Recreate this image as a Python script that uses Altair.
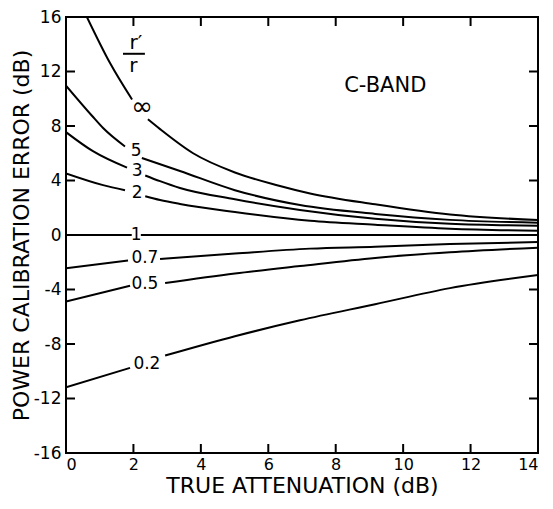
import altair as alt
import pandas as pd

# ---- axis ticks -------------------------------------------------------
x_ticks = [0, 2, 4, 6, 8, 10, 12, 14]
y_ticks = [-16, -12, -8, -4, 0, 4, 8, 12, 16]
inner_x_ticks = [2, 4, 6, 8, 10, 12]
inner_y_ticks = [-12, -8, -4, 0, 4, 8, 12]

# ---- curve readings (x: true attenuation dB, y: error dB) -------------
# each curve is split in two pieces around its in-line label
inf_x1 = [0.62, 1.31, 1.96]
inf_y1 = [16.0, 12.6, 9.94]
inf_x2 = [2.43, 2.79, 3.77, 5.01, 6.26, 7.24, 9.17, 11.39, 14.0]
inf_y2 = [8.49, 7.77, 6.0, 4.59, 3.65, 3.05, 2.25, 1.5, 1.1]

r5_x1 = [0.0, 0.77, 1.1, 1.75]
r5_y1 = [10.96, 8.75, 7.85, 6.5]
r5_x2 = [2.25, 3.38, 5.01, 6.94, 9.17, 11.39, 14.0]
r5_y2 = [5.65, 4.7, 3.29, 2.2, 1.55, 1.11, 0.9]

r3_x1 = [0.0, 0.8, 1.81]
r3_y1 = [7.55, 6.15, 4.94]
r3_x2 = [2.35, 2.79, 3.38, 5.01, 6.94, 9.17, 11.39, 14.0]
r3_y2 = [4.37, 3.95, 3.45, 2.62, 1.84, 1.19, 0.82, 0.68]

r2_x1 = [0.0, 1.1, 1.75]
r2_y1 = [4.52, 3.66, 3.29]
r2_x2 = [2.35, 2.79, 3.38, 5.01, 7.24, 9.17, 11.39, 14.0]
r2_y2 = [2.85, 2.57, 2.28, 1.69, 1.04, 0.75, 0.46, 0.31]

r1_x1 = [0.0, 1.95]
r1_y1 = [0.0, 0.0]
r1_x2 = [2.22, 14.0]
r1_y2 = [0.0, 0.0]

r07_x1 = [0.0, 1.84]
r07_y1 = [-2.44, -1.88]
r07_x2 = [2.79, 5.01, 7.24, 9.17, 11.39, 14.0]
r07_y2 = [-1.76, -1.36, -1.0, -0.86, -0.66, -0.52]

r05_x1 = [0.0, 1.9]
r05_y1 = [-4.88, -3.73]
r05_x2 = [2.94, 5.01, 6.94, 9.17, 11.39, 14.0]
r05_y2 = [-3.53, -2.83, -2.28, -1.68, -1.27, -0.93]

r02_x1 = [0.0, 1.9]
r02_y1 = [-11.17, -9.75]
r02_x2 = [2.94, 5.01, 6.94, 9.17, 11.39, 14.0]
r02_y2 = [-8.85, -7.43, -6.26, -5.08, -3.9, -2.94]

# ---- in-line labels ---------------------------------------------------
label_text = ["5", "3", "2", "1", "0.7", "0.5", "0.2"]
label_x = [2.08, 2.11, 2.11, 2.08, 2.34, 2.34, 2.40]
label_y = [6.14, 4.73, 3.08, 0.0, -1.7, -3.57, -9.45]
inf_label = ["∞"]
inf_label_x = [2.26]
inf_label_y = [9.36]

frac_top = ["r′"]
frac_top_x = [2.07]
frac_top_y = [14.1]
frac_bot = ["r"]
frac_bot_x = [2.0]
frac_bot_y = [12.4]
frac_bar_x = [1.69]
frac_bar_x2 = [2.34]
frac_bar_y = [13.3]

band_text = ["C-BAND"]
band_x = [9.47]
band_y = [10.9]

# ---- build tables -----------------------------------------------------
pieces = [
    ("inf", "a", inf_x1, inf_y1), ("inf", "b", inf_x2, inf_y2),
    ("5", "a", r5_x1, r5_y1), ("5", "b", r5_x2, r5_y2),
    ("3", "a", r3_x1, r3_y1), ("3", "b", r3_x2, r3_y2),
    ("2", "a", r2_x1, r2_y1), ("2", "b", r2_x2, r2_y2),
    ("1", "a", r1_x1, r1_y1), ("1", "b", r1_x2, r1_y2),
    ("0.7", "a", r07_x1, r07_y1), ("0.7", "b", r07_x2, r07_y2),
    ("0.5", "a", r05_x1, r05_y1), ("0.5", "b", r05_x2, r05_y2),
    ("0.2", "a", r02_x1, r02_y1), ("0.2", "b", r02_x2, r02_y2),
]
rows = []
for c, s, xs, ys in pieces:
    for xv, yv in zip(xs, ys):
        rows.append({"seg": c + s, "x": xv, "y": yv})
curves = pd.DataFrame(rows)

labels = pd.DataFrame({"t": label_text, "x": label_x, "y": label_y})
inf_df = pd.DataFrame({"t": inf_label, "x": inf_label_x, "y": inf_label_y})
ftop = pd.DataFrame({"t": frac_top, "x": frac_top_x, "y": frac_top_y})
fbot = pd.DataFrame({"t": frac_bot, "x": frac_bot_x, "y": frac_bot_y})
fbar = pd.DataFrame({"x": frac_bar_x, "x2": frac_bar_x2, "y": frac_bar_y})
band = pd.DataFrame({"t": band_text, "x": band_x, "y": band_y})

bottom_t = pd.DataFrame({"x": inner_x_ticks, "y": [-16] * len(inner_x_ticks)})
top_t = pd.DataFrame({"x": inner_x_ticks, "y": [16] * len(inner_x_ticks)})
left_t = pd.DataFrame({"x": [0] * len(inner_y_ticks), "y": inner_y_ticks})
right_t = pd.DataFrame({"x": [14] * len(inner_y_ticks), "y": inner_y_ticks})

W, H, TICK = 472, 436, 9
FONT = "DejaVu Sans"
xscale = alt.Scale(domain=[0, 14], nice=False, zero=False)
yscale = alt.Scale(domain=[-16, 16], nice=False, zero=False)
xaxis = alt.Axis(values=x_ticks, title="TRUE ATTENUATION (dB)", labelExpr="'' + datum.value")
yaxis = alt.Axis(values=y_ticks, title="POWER CALIBRATION ERROR (dB)", labelExpr="'' + datum.value")


def X(f="x"):
    return alt.X(f"{f}:Q", scale=xscale, axis=xaxis)


def Y(f="y"):
    return alt.Y(f"{f}:Q", scale=yscale, axis=yaxis)


lines = alt.Chart(curves).mark_line(
    color="black", strokeWidth=2, interpolate="monotone", clip=True
).encode(x=X(), y=Y(), detail="seg:N")

lab = alt.Chart(labels).mark_text(
    font=FONT, fontSize=17, color="black"
).encode(x=X(), y=Y(), text="t:N")

inf_t = alt.Chart(inf_df).mark_text(
    font=FONT, fontSize=26, color="black"
).encode(x=X(), y=Y(), text="t:N")

ft = alt.Chart(ftop).mark_text(font=FONT, fontSize=20, color="black").encode(
    x=X(), y=Y(), text="t:N")
fb = alt.Chart(fbot).mark_text(font=FONT, fontSize=20, color="black").encode(
    x=X(), y=Y(), text="t:N")
fr = alt.Chart(fbar).mark_rule(color="black", strokeWidth=2).encode(
    x=X(), x2="x2:Q", y=Y())

bt = alt.Chart(band).mark_text(font=FONT, fontSize=21, color="black").encode(
    x=X(), y=Y(), text="t:N")

# inward-pointing frame ticks
tk_b = alt.Chart(bottom_t).mark_rule(color="black", strokeWidth=2).encode(
    x=X(), y=Y(), y2=alt.value(H - TICK))
tk_t = alt.Chart(top_t).mark_rule(color="black", strokeWidth=2).encode(
    x=X(), y=Y(), y2=alt.value(TICK))
tk_l = alt.Chart(left_t).mark_rule(color="black", strokeWidth=2).encode(
    x=X(), y=Y(), x2=alt.value(TICK))
tk_r = alt.Chart(right_t).mark_rule(color="black", strokeWidth=2).encode(
    x=X(), y=Y(), x2=alt.value(W - TICK))

chart = alt.layer(
    lines, lab, inf_t, ft, fb, fr, bt, tk_b, tk_t, tk_l, tk_r
).properties(
    width=W, height=H,
    autosize=alt.AutoSizeParams(type="none"),
    padding={"left": 58, "top": 9, "right": 7, "bottom": 48},
    background="white",
).configure_view(
    stroke="black", strokeWidth=2
).configure_axis(
    domain=False, ticks=False, grid=False,
    labelFont=FONT, labelColor="black",
    titleFont=FONT, titleFontWeight="normal", titleColor="black",
).configure_axisX(
    labelFontSize=16, labelPadding=3, titlePadding=3, titleFontSize=22
).configure_axisY(
    labelFontSize=17, labelPadding=5, titlePadding=0, titleFontSize=22
)

chart.save("out.html", embed_options={"renderer": "svg", "actions": False})
